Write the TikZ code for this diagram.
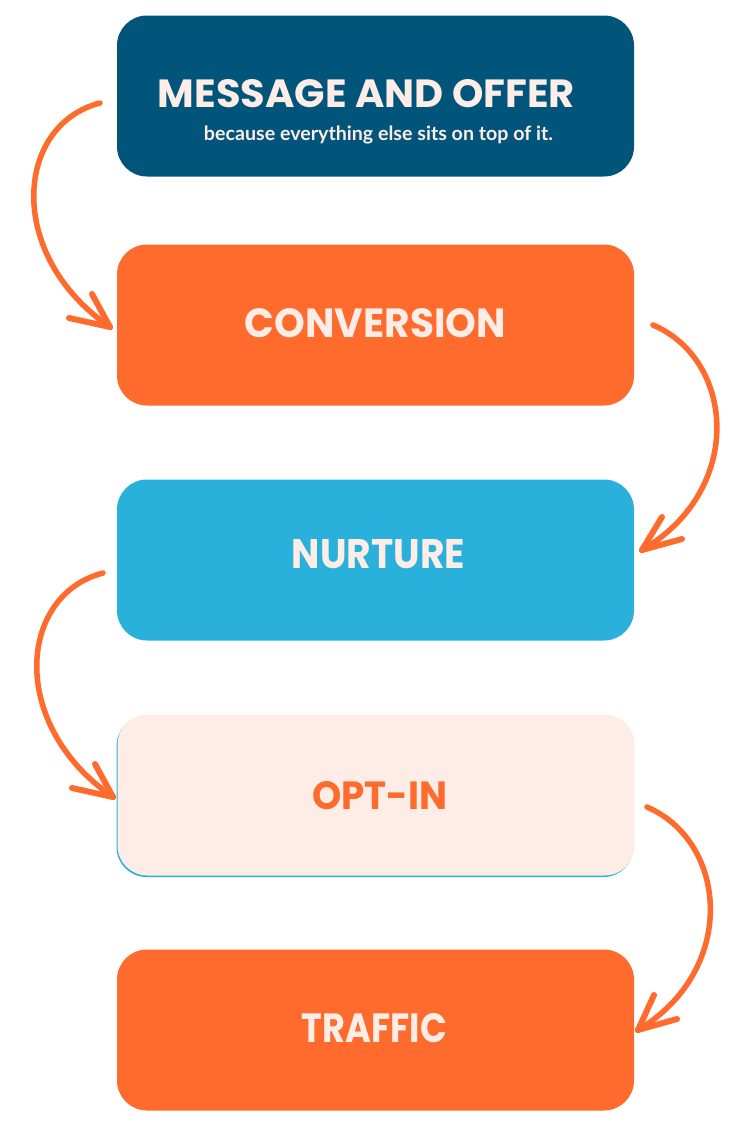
\documentclass[tikz,border=0pt]{standalone}
\usepackage{fontspec}
\newfontfamily\titlefont{Poppins}
\newfontfamily\subfont{Lato}
\usepackage{graphicx}
\definecolor{deepteal}{HTML}{02557A}
\definecolor{flame}{HTML}{FF6B2C}
\definecolor{skyblue}{HTML}{29B1DC}
\definecolor{cream}{HTML}{FDEDE6}
\begin{document}
\begin{tikzpicture}[x=1pt,y=-1pt,
  stage/.style={rectangle, rounded corners=30pt, minimum width=517pt, minimum height=161pt, inner sep=0pt, draw=none},
  stagetext/.style={inner sep=0pt, font=\titlefont\bfseries},
  curly/.style={draw=flame, line width=5.5pt, line cap=round, line join=round},
  barb/.style={draw=flame, line width=6pt, line cap=round}]
\useasboundingbox (0,0) rectangle (736,1130);
\fill[white] (0,0) rectangle (736,1130);

% boxes
\node[stage, fill=deepteal] (b1) at (375.5,96) {};
\node[stage, fill=flame] (b2) at (375.5,325) {};
\node[stage, fill=skyblue] (b3) at (375.5,560) {};
\node[stage, fill=skyblue, minimum height=161pt] (b4under) at (375,796.5) {};
\node[stage, fill=cream] (b4) at (376,795) {};
\node[stage, fill=flame] (b5) at (375.5,1030) {};

% titles
\node[stagetext, text=cream] (t1) at (366.5,94) {\resizebox{417pt}{28pt}{MESSAGE AND OFFER}};
\node[inner sep=0pt, text=cream, anchor=base] (s1) at (378.5,140) {\resizebox{349pt}{!}{\subfont\bfseries because everything else sits on top of it.}};
\node[stagetext, text=cream] (t2) at (375.5,323.5) {\resizebox{261pt}{29pt}{CONVERSION}};
\node[stagetext, text=cream] (t3) at (378.5,554) {\resizebox{173pt}{29pt}{NURTURE}};
\node[stagetext, text=flame] (t4) at (380,796) {\resizebox{135pt}{28pt}{OPT-IN}};
\node[stagetext, text=cream] (t5) at (374.5,1028.5) {\resizebox{145pt}{29pt}{TRAFFIC}};

% arrow ends
\coordinate (a1s) at (100,103);
\coordinate (a1t) at (110,327);
\coordinate (a2s) at (653,325);
\coordinate (a2t) at (642,550);
\coordinate (a3s) at (103,573);
\coordinate (a3t) at (113,797);
\coordinate (a4s) at (647,807);
\coordinate (a4t) at (638,1030);
\coordinate (a1b1) at (92,294);  \coordinate (a1b2) at (69,318);
\coordinate (a2b1) at (662,517); \coordinate (a2b2) at (682,539);
\coordinate (a3b1) at (95,764);  \coordinate (a3b2) at (72,788);
\coordinate (a4b1) at (654,995); \coordinate (a4b2) at (677,1019);

% arrows
\draw[curly] (a1s) .. controls (15,125) and (5,255) .. (a1t);
\draw[barb] (a1t) -- (a1b1); \draw[barb] (a1t) -- (a1b2);
\draw[curly] (a2s) .. controls (735,360) and (745,490) .. (a2t);
\draw[barb] (a2t) -- (a2b1); \draw[barb] (a2t) -- (a2b2);
\draw[curly] (a3s) .. controls (18,595) and (8,725) .. (a3t);
\draw[barb] (a3t) -- (a3b1); \draw[barb] (a3t) -- (a3b2);
\draw[curly] (a4s) .. controls (728,842) and (738,970) .. (a4t);
\draw[barb] (a4t) -- (a4b1); \draw[barb] (a4t) -- (a4b2);
\end{tikzpicture}
\end{document}
